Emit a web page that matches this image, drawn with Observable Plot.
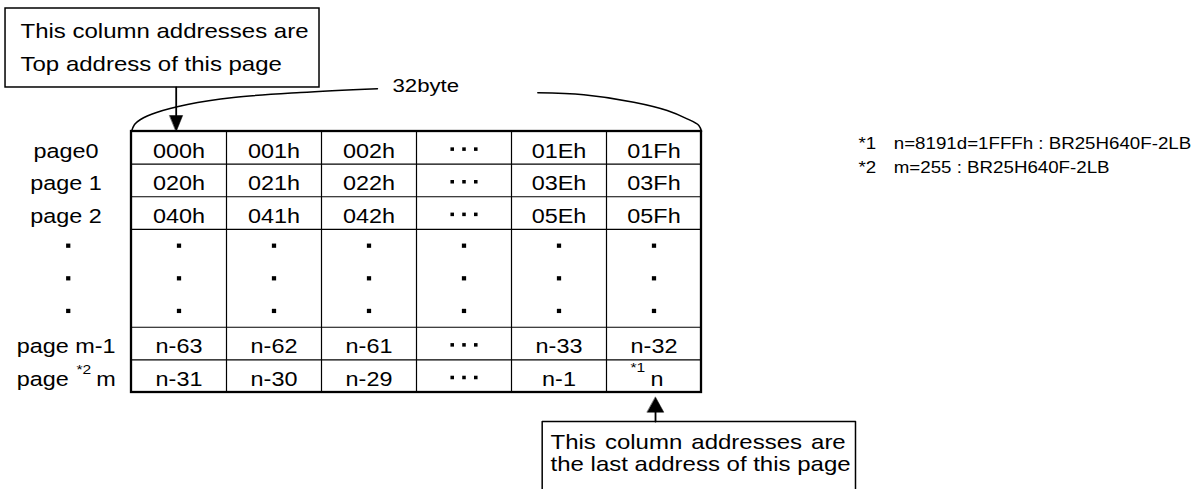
<!DOCTYPE html>
<html><head><meta charset="utf-8">
<script src="https://cdn.jsdelivr.net/npm/d3@7"></script>
<script src="https://cdn.jsdelivr.net/npm/@observablehq/plot@0.6"></script>
<style>
html,body{margin:0;padding:0;background:#fff;overflow:hidden}
</style></head><body><div id="chart"></div>
<script>
// ---------- data ----------
const columnIndex = [0, 1, 2, 3, 4, 5];
const rowIndex = [0, 1, 2, 6, 7];           // rows that carry addresses
const gapRows = [3, 4, 5];                  // rows shown as vertical dots
const ellipsisColumn = 3;                   // column shown as "· · ·"
const rowLabels = ["page0", "page 1", "page 2", "page m-1", "page"];
const addressRows = [
  ["000h", "001h", "002h", null, "01Eh", "01Fh"],
  ["020h", "021h", "022h", null, "03Eh", "03Fh"],
  ["040h", "041h", "042h", null, "05Eh", "05Fh"],
  ["n-63", "n-62", "n-61", null, "n-33", "n-32"],
  ["n-31", "n-30", "n-29", null, "n-1", "n"]
];
const lastRowSuffix = "m";
const superscripts = ["*2", "*1"];
const byteLabel = "32byte";
const topNote = ["This column addresses are", "Top address of this page"];
const bottomNote = ["This column addresses are", "the last address of this page"];
const footnoteMarks = ["*1", "*2"];
const footnotes = ["n=8191d=1FFFh : BR25H640F-2LB", "m=255 : BR25H640F-2LB"];

// ---------- layout (in table units: columns / rows) ----------
const nCols = columnIndex.length, nRows = 8;
const labelX = -0.689;
const cells = [];
rowIndex.forEach((r, i) => addressRows[i].forEach((v, c) => {
  if (v !== null && !(i === rowIndex.length - 1 && c === nCols - 1)) cells.push({x: c + 0.5, y: r + 0.5, text: v});
}));
const labels = rowLabels.slice(0, 4).map((t, i) => ({x: labelX, y: rowIndex[i] + 0.5, text: t}));
const vDots = [];
gapRows.forEach(r => {
  vDots.push({x: -0.666, y: r + 0.5});
  columnIndex.forEach(c => vDots.push({x: c + 0.5, y: r + 0.5}));
});
const hDots = [];
rowIndex.forEach(r => [-1, 0, 1].forEach(k => hDots.push({x: ellipsisColumn + 0.5 + k * 0.124, y: r + 0.54})));

const innerV = d3.range(1, nCols);
const innerH = [1, 2, 3, 6, 7];

const arcs = [
  ...[[0, 0], [0.032, -0.215], [0.095, -0.368], [0.263, -0.583], [0.589, -0.828], [1.074, -1.042], [1.779, -1.195], [2.589, -1.311]]
    .map(([x, y]) => ({side: "L", x, y})),
  ...[[4.277, -1.186], [4.761, -1.125], [5.287, -0.898], [5.639, -0.644], [5.849, -0.389], [5.972, -0.184], [6, 0]]
    .map(([x, y]) => ({side: "R", x, y}))
];

const shafts = [
  {id: "t", x: 0.4705, y: -1.349}, {id: "t", x: 0.4705, y: -0.45},
  {id: "b", x: 5.516, y: 8.889}, {id: "b", x: 5.516, y: 8.56}
];
const heads = [
  {id: "t", x: 0.4705 - 0.068, y: -0.49}, {id: "t", x: 0.4705 + 0.068, y: -0.49}, {id: "t", x: 0.4705, y: 0},
  {id: "b", x: 5.516 - 0.087, y: 8.604}, {id: "b", x: 5.516 + 0.087, y: 8.604}, {id: "b", x: 5.516, y: 8.144}
];
const bottomBox = [
  {x: 4.323, y: 11.2}, {x: 4.323, y: 8.889}, {x: 7.621, y: 8.889}, {x: 7.621, y: 11.2}
];
const topBox = [{x1: -1.326, x2: 1.979, y1: -3.770, y2: -1.349}];

const topText = topNote.map((t, i) => ({x: -1.168, y: [-3.068, -2.044][i], text: t}));
const bottomText = bottomNote.map((t, i) => ({x: 4.411, y: [9.530, 10.216][i], text: t}));
const byteText = [{x: 2.747, y: -1.385, text: byteLabel}];
const lastLabelEnd = [{x: -0.660, y: 7.5, text: rowLabels[4]}];
const lastLabelStart = [{x: -0.372, y: 7.5, text: lastRowSuffix}, {x: 5.463, y: 7.5, text: addressRows[4][5]}];
const supText = [{x: -0.579, y: 7.298, text: superscripts[0]}, {x: 5.253, y: 7.249, text: superscripts[1]}];
const noteMarks = footnoteMarks.map((t, i) => ({x: 7.653, y: [0.378, 1.134][i], text: t}));
const noteText = footnotes.map((t, i) => ({x: 8.024, y: [0.378, 1.134][i], text: t}));

const FONT = "Liberation Sans, Arial, Helvetica, sans-serif";
const plot = Plot.plot({
  width: 1197, height: 489,
  margin: 0,
  x: {type: "linear", domain: [0, nCols], range: [131, 701], axis: null},
  y: {type: "linear", domain: [0, nRows], range: [131, 392], axis: null},
  style: {fontFamily: FONT, background: "white", color: "black"},
  marks: [
    Plot.ruleX(innerV, {x: d => d, y1: 0, y2: nRows, stroke: "black", strokeWidth: 1.2}),
    Plot.ruleY(innerH, {y: d => d, x1: 0, x2: nCols, stroke: "black", strokeWidth: 1.2}),
    Plot.rect([{x1: 0, x2: nCols, y1: 0, y2: nRows}], {x1: "x1", x2: "x2", y1: "y1", y2: "y2", fill: "none", stroke: "black", strokeWidth: 2.3}),
    Plot.line(arcs, {x: "x", y: "y", z: "side", curve: "catmull-rom", stroke: "black", strokeWidth: 1.5}),
    Plot.rect(topBox, {x1: "x1", x2: "x2", y1: "y1", y2: "y2", fill: "none", stroke: "black", strokeWidth: 1.5}),
    Plot.line(bottomBox, {x: "x", y: "y", stroke: "black", strokeWidth: 1.5}),
    Plot.line(shafts, {x: "x", y: "y", z: "id", stroke: "black", strokeWidth: 1.8}),
    Plot.line(heads, {x: "x", y: "y", z: "id", fill: "black", stroke: "black", strokeWidth: 0.5, curve: "linear-closed"}),
    Plot.dot(vDots, {x: "x", y: "y", symbol: "square", r: 2.4, fill: "black", stroke: null}),
    Plot.dot(hDots, {x: "x", y: "y", symbol: "square", r: 2.0, fill: "black", stroke: null}),
    Plot.text(cells, {x: "x", y: "y", text: "text", fontSize: 19.5, dy: 3.5}),
    Plot.text(labels, {x: "x", y: "y", text: "text", fontSize: 19.5, dy: 3.5}),
    Plot.text(lastLabelEnd, {x: "x", y: "y", text: "text", textAnchor: "end", fontSize: 19.5, dy: 3.5}),
    Plot.text(lastLabelStart, {x: "x", y: "y", text: "text", textAnchor: "start", fontSize: 19.5, dy: 3.5}),
    Plot.text(supText, {x: "x", y: "y", text: "text", textAnchor: "start", fontSize: 13}),
    Plot.text(topText, {x: "x", y: "y", text: "text", textAnchor: "start", fontSize: 20}),
    Plot.text(bottomText, {x: "x", y: "y", text: "text", textAnchor: "start", fontSize: 20}),
    Plot.text(byteText, {x: "x", y: "y", text: "text", textAnchor: "start", fontSize: 18.5}),
    Plot.text(noteMarks, {x: "x", y: "y", text: "text", textAnchor: "start", fontSize: 15.6}),
    Plot.text(noteText, {x: "x", y: "y", text: "text", textAnchor: "start", fontSize: 15.6})
  ]
});
// widen glyphs horizontally to match the reference lettering
plot.querySelectorAll("text").forEach(t => {
  const tr = t.getAttribute("transform");
  if (tr) t.setAttribute("transform", tr + " scale(1.2,1)");
});
// justify the first line of the lower callout a little wider
const lows = [...plot.querySelectorAll("text")].filter(t => t.textContent === bottomNote[0]);
if (lows.length) lows[lows.length - 1].setAttribute("word-spacing", "2");
document.getElementById("chart").appendChild(plot);
</script></body></html>
